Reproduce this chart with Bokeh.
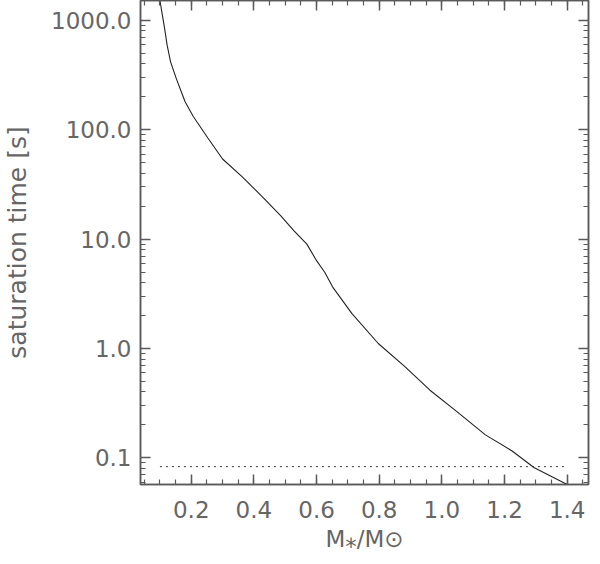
from bokeh.plotting import figure
from bokeh.models import (Range1d, LinearAxis, LogAxis, SingleIntervalTicker, LogTicker,
                          PrintfTickFormatter, CustomJSTickFormatter)
from bokeh.embed import file_html
from bokeh.resources import INLINE

# data
mass = [0.100, 0.108, 0.115, 0.123, 0.134, 0.152, 0.180, 0.206, 0.253, 0.300, 0.362,
        0.424, 0.486, 0.528, 0.569, 0.600, 0.626, 0.651, 0.713, 0.797, 0.881, 0.962,
        1.046, 1.139, 1.223, 1.295, 1.400]
t_sat = [1520, 1110, 840, 593, 418, 295, 181, 133, 84, 54, 37.2, 24.8, 16.3, 11.9,
         9.0, 6.35, 4.98, 3.66, 2.08, 1.11, 0.686, 0.415, 0.267, 0.162, 0.116, 0.081,
         0.057]
thresh_x = [0.100, 1.400]
thresh_y = [0.083, 0.083]

FONT = "DejaVu Sans"
TXT = "#666666"
AX = "#5a5a5a"

p = figure(width=592, height=556, output_backend="svg", toolbar_location=None,
           y_axis_type="log",
           x_range=Range1d(0.038, 1.468), y_range=Range1d(0.057, 1520),
           min_border_left=128, min_border_right=4, min_border_top=0, min_border_bottom=72)
p.background_fill_color = "white"
p.border_fill_color = "white"
p.xgrid.visible = False
p.ygrid.visible = False
p.outline_line_color = AX
p.outline_line_width = 1.5

p.line(mass, t_sat, line_color="#222222", line_width=1.1)
p.line(thresh_x, thresh_y, line_color="#333333", line_width=1, line_dash="2 4")

def style(ax):
    ax.axis_line_color = AX
    ax.axis_line_width = 1.5
    ax.major_tick_line_color = AX
    ax.minor_tick_line_color = AX
    ax.major_tick_line_width = 1.5
    ax.minor_tick_line_width = 1.2
    ax.major_tick_in = 10
    ax.major_tick_out = 0
    ax.minor_tick_in = 5
    ax.minor_tick_out = 0
    ax.major_label_text_font = FONT
    ax.major_label_text_color = TXT
    ax.major_label_text_font_size = "23px"
    ax.axis_label_text_font = FONT
    ax.axis_label_text_color = TXT
    ax.axis_label_text_font_size = "23px"
    ax.axis_label_text_font_style = "normal"

def mirror(ax):
    style(ax)
    ax.formatter = CustomJSTickFormatter(code="return '';")
    ax.major_label_standoff = 0
    ax.axis_label = None

xb = p.xaxis[0]
xb.ticker = SingleIntervalTicker(interval=0.2, num_minor_ticks=4)
xb.formatter = PrintfTickFormatter(format="%.1f")
style(xb)
xb.major_label_standoff = 16
xb.axis_label = "M\u204e/M\u2299"
xb.axis_label_standoff = 5

yl = p.yaxis[0]
yl.ticker = LogTicker(desired_num_ticks=6, num_minor_ticks=10)
yl.formatter = PrintfTickFormatter(format="%.1f")
style(yl)
yl.major_label_standoff = 9
yl.axis_label = "saturation time [s]"
yl.axis_label_text_font_size = "25px"
yl.axis_label_standoff = 16

xt = LinearAxis(ticker=SingleIntervalTicker(interval=0.2, num_minor_ticks=4))
mirror(xt)
p.add_layout(xt, "above")

yr = LogAxis(ticker=LogTicker(desired_num_ticks=6, num_minor_ticks=10))
mirror(yr)
p.add_layout(yr, "right")

open("out.html", "w").write(file_html(p, INLINE))
